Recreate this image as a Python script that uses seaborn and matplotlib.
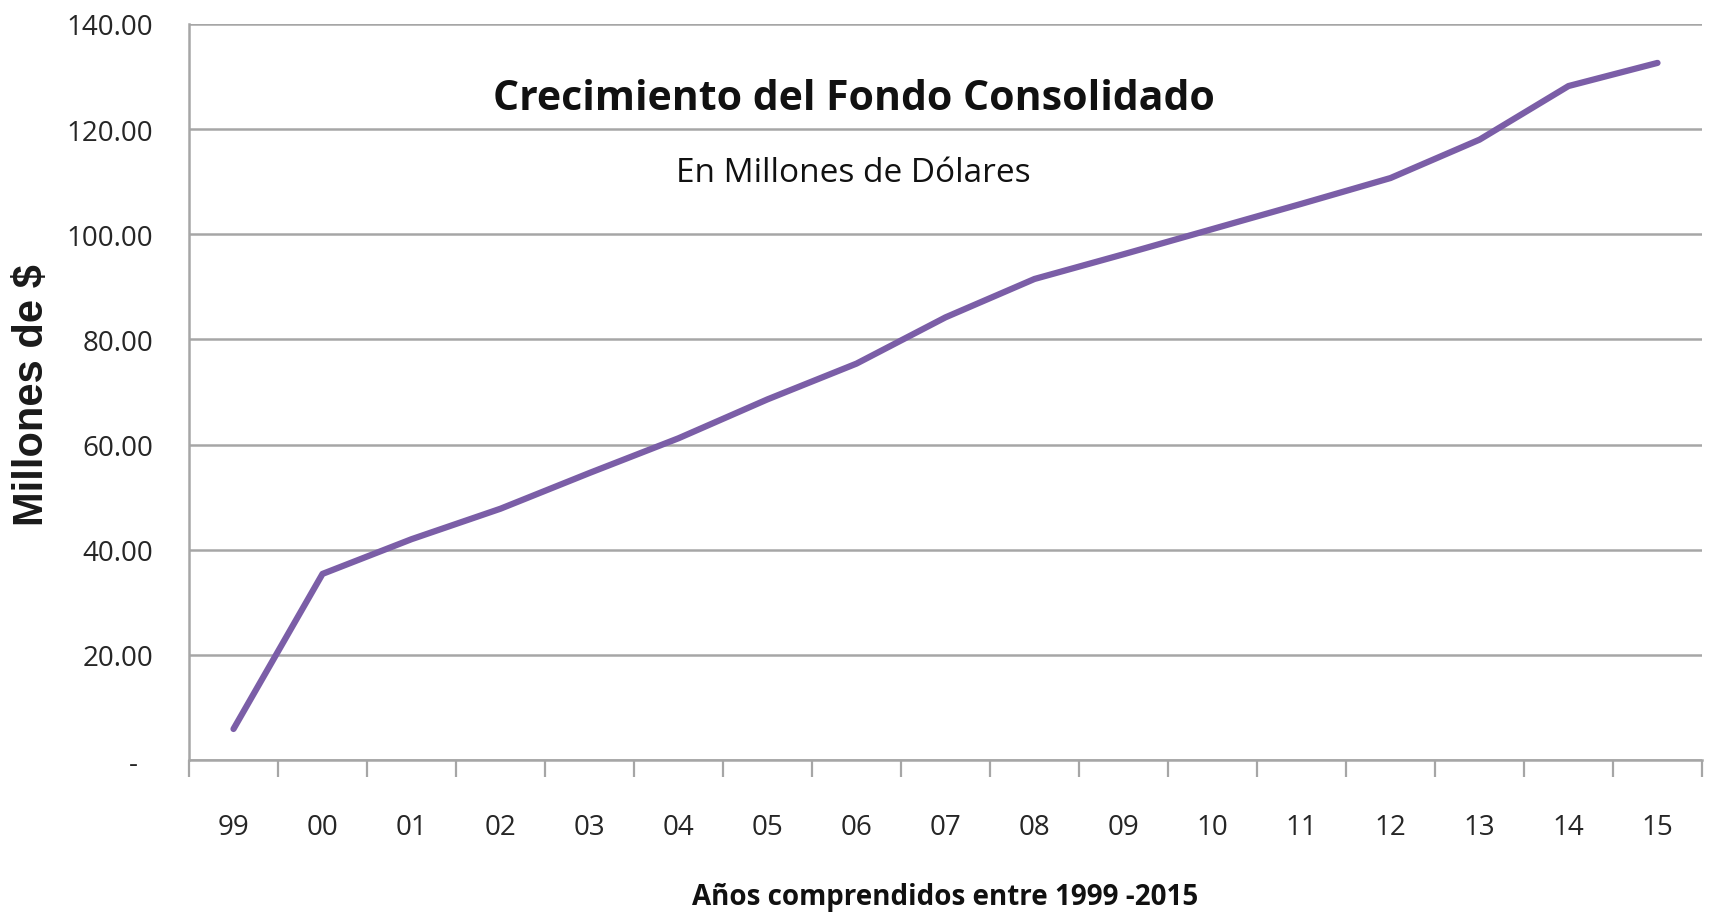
import numpy as np
import pandas as pd
import matplotlib
matplotlib.use("Agg")
import matplotlib.pyplot as plt
from matplotlib import font_manager
from matplotlib.ticker import FixedLocator, FixedFormatter
import seaborn as sns

# data
anos = ["99", "00", "01", "02", "03", "04", "05", "06", "07", "08",
        "09", "10", "11", "12", "13", "14", "15"]
fondo = [5.9, 35.4, 42.0, 47.8, 54.6, 61.2, 68.6, 75.4, 84.2, 91.5,
         96.2, 101.0, 105.8, 110.7, 118.0, 128.2, 132.6]
y_ticks = [0, 20, 40, 60, 80, 100, 120, 140]

df = pd.DataFrame({"Año": anos, "Fondo": fondo})

sns.set_theme(style="white")

# condensed font looks closer to the original Calibri text
names = {f.name for f in font_manager.fontManager.ttflist}
if "Liberation Sans Narrow" in names:
    fam = ["Liberation Sans Narrow", "DejaVu Sans"]
    s_tick, s_title, s_sub, s_xlab = 24, 38, 30, 26
else:
    fam = ["Open Sans", "DejaVu Sans"]
    s_tick, s_title, s_sub, s_xlab = 20, 29.5, 24, 20
plt.rcParams["font.family"] = fam

grid_col = "#a6a6a6"
purple = "#7b5ea7"

fig = plt.figure(figsize=(17.12, 9.2), dpi=100)
ax = fig.add_axes([189 / 1712, 1 - 761 / 920, 1513 / 1712, 736 / 920])

sns.lineplot(data=df, x="Año", y="Fondo", ax=ax, color=purple,
             linewidth=4.5, sort=False)

ax.set_xlim(-0.5, len(anos) - 0.5)
ax.set_ylim(0, 140)

# y axis
ax.set_yticks(y_ticks)
ax.set_yticklabels(["-  "] + [f"{v:.2f}" for v in y_ticks[1:]])
ax.yaxis.grid(True, color=grid_col, linewidth=1.8)
ax.tick_params(axis="y", direction="out", length=8, width=1.6,
               color=grid_col, pad=18, labelsize=s_tick, labelcolor="#262626")

# x axis: labels centred, ticks between categories
ax.xaxis.set_major_locator(FixedLocator(np.arange(len(anos))))
ax.xaxis.set_major_formatter(FixedFormatter(anos))
ax.xaxis.set_minor_locator(FixedLocator(np.arange(len(anos) + 1) - 0.5))
ax.tick_params(axis="x", which="major", length=0, pad=38,
               labelsize=s_tick, labelcolor="#262626")
ax.tick_params(axis="x", which="minor", direction="out", length=12,
               width=1.6, color=grid_col, bottom=True)

for side in ["top", "right"]:
    ax.spines[side].set_visible(False)
for side in ["left", "bottom"]:
    ax.spines[side].set_color(grid_col)
    ax.spines[side].set_linewidth(1.8)

ax.set_ylabel("Millones de $", fontsize=30, fontweight="bold",
              family=["Liberation Sans", "DejaVu Sans"], color="#1a1a1a")
ax.yaxis.label.set_va("center")
ax.yaxis.set_label_coords(-0.104, 0.497)

ax.set_xlabel("Años comprendidos entre 1999 -2015", fontsize=s_xlab,
              fontweight="bold", color="#111111")
ax.xaxis.label.set_va("center")
ax.xaxis.set_label_coords(0.5, -0.185)

fig.text(854 / 1712, 1 - 99 / 920, "Crecimiento del Fondo Consolidado",
         ha="center", va="center", fontsize=s_title, fontweight="bold",
         color="#111111")
fig.text(853 / 1712, 1 - 174 / 920, "En Millones de Dólares",
         ha="center", va="center", fontsize=s_sub, color="#111111")

fig.savefig("out.png", dpi=100, facecolor="white")
